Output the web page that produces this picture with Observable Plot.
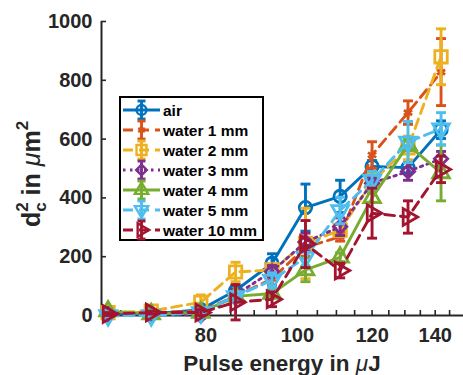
<!DOCTYPE html>
<html>
<head>
<meta charset="utf-8">
<script src="https://cdn.jsdelivr.net/npm/d3@7"></script>
<script src="https://cdn.jsdelivr.net/npm/@observablehq/plot@0.6"></script>
<style>
  html, body { margin: 0; padding: 0; background: #fff; }
  #chart { position: relative; width: 463px; height: 375px; overflow: hidden; }
  #chart svg { display: block; }
  #legend { position: absolute; left: 0; top: 0; pointer-events: none; }
</style>
</head>
<body>
<div id="chart"></div>
<script>
// Pulse energies (µJ) at which the crater diameter was measured
const energy = [63, 70, 79, 86, 94, 102, 111, 120, 131, 142];

const seriesNames = ["air", "water 1 mm", "water 2 mm", "water 3 mm", "water 4 mm", "water 5 mm", "water 10 mm"];

// Squared crater diameter d_c^2 (µm^2) and its error, one pair of arrays per medium
const air       = [5, 5, 20, 85, 177, 367, 405, 507, 503, 632];
const airErr    = [5, 5, 8, 15, 33, 80, 55, 20, 20, 30];
const water1    = [5, 10, 15, 65, 125, 232, 268, 546, 690, 828];
const water1Err = [5, 5, 8, 20, 20, 30, 15, 45, 40, 114];
const water2    = [10, 15, 45, 148, 155, 245, 290, 455, 570, 880];
const water2Err = [5, 5, 25, 33, 15, 120, 20, 30, 40, 95];
const water3    = [5, 10, 0, 70, 150, 250, 302, 450, 490, 533];
const water3Err = [5, 5, 10, 20, 20, 30, 30, 20, 30, 25];
const water4    = [15, 5, 10, 65, 75, 155, 198, 400, 580, 485];
const water4Err = [5, 5, 5, 15, 10, 40, 15, 15, 20, 95];
const water5    = [0, 0, 10, 65, 120, 198, 357, 460, 590, 635];
const water5Err = [5, 5, 5, 15, 25, 30, 45, 30, 70, 55];
const water10   = [5, 10, 10, 45, 55, 243, 153, 348, 335, 497];
const water10Err = [5, 5, 10, 60, 25, 80, 25, 85, 55, 45];

// Axis ticks
const yTicks = [0, 200, 400, 600, 800, 1000];
const xTickLabels = [80, 100, 120, 140];
const xMinorTicks = [65, 70, 75, 80, 85, 90, 95, 100, 105, 110, 115, 120, 125, 130, 135, 140, 145];

const seriesValues = [air, water1, water2, water3, water4, water5, water10];
const seriesErrors = [airErr, water1Err, water2Err, water3Err, water4Err, water5Err, water10Err];

// Series styling (MATLAB default colour order)
const colors = ["#0072BD", "#D95319", "#EDB120", "#7E2F8E", "#77AC30", "#4DBEEE", "#A2142F"];
const dashes = [null, "10,6", "10,6", "2.5,4.5", null, "10,6", "10,6"];
const symbolNames = ["circle", "asterisk", "square", "diamond2", "triangle", "triangle", "triangle"];
const d3Symbols = [d3.symbolCircle, d3.symbolAsterisk, d3.symbolSquare, d3.symbolDiamond2, d3.symbolTriangle, d3.symbolTriangle, d3.symbolTriangle];
const rotations = [0, 0, 0, 0, 0, 180, 90];
const radii = [6.2, 4.5, 7, 6, 6.2, 6.2, 6.2];

const LW = 2.9;
const ink = "#262626";
const font = "'Liberation Sans', Arial, Helvetica, sans-serif";

// Horizontal error-bar cap drawn as a custom symbol
const capSymbol = {
  draw(ctx, size) {
    const h = Math.sqrt(size) / 2;
    ctx.moveTo(-h, 0);
    ctx.lineTo(h, 0);
  }
};
const capR = 10 / Math.sqrt(Math.PI);

const rows = seriesNames.map((name, s) =>
  energy.map((e, i) => ({name, energy: e, value: seriesValues[s][i], err: seriesErrors[s][i]}))
);

const seriesMarks = rows.flatMap((data, s) => [
  Plot.line(data, {x: "energy", y: "value", stroke: colors[s], strokeWidth: LW, strokeDasharray: dashes[s], strokeLinejoin: "round"}),
  Plot.ruleX(data, {x: "energy", y1: d => d.value - d.err, y2: d => d.value + d.err, stroke: colors[s], strokeWidth: LW}),
  Plot.dot(data, {x: "energy", y: d => d.value + d.err, symbol: capSymbol, r: capR, stroke: colors[s], strokeWidth: LW, fill: "none"}),
  Plot.dot(data, {x: "energy", y: d => d.value - d.err, symbol: capSymbol, r: capR, stroke: colors[s], strokeWidth: LW, fill: "none"}),
  Plot.dot(data, {x: "energy", y: "value", symbol: symbolNames[s], r: radii[s], rotate: rotations[s], stroke: colors[s], strokeWidth: 2.8, fill: "none"})
]);

const chart = Plot.plot({
  width: 463,
  height: 375,
  marginLeft: 101,
  marginRight: 0,
  marginTop: 21,
  marginBottom: 60,
  style: {fontFamily: font, background: "#fff", overflow: "visible"},
  x: {type: "log", domain: [62, 150]},
  y: {domain: [0, 1000]},
  marks: [
    // inward ticks
    Plot.axisX({ticks: xMinorTicks, tickSize: 5, dy: -5, tickFormat: () => "", stroke: ink, strokeWidth: 1.6, label: null}),
    Plot.axisY({ticks: yTicks, tickSize: 5, dx: 5, tickFormat: () => "", stroke: ink, strokeWidth: 1.6, label: null}),
    // tick labels
    Plot.axisX({ticks: xTickLabels, tickSize: 0, tickPadding: 12, tickFormat: d => String(d), fontSize: 20, fontWeight: "bold", fill: ink, label: null}),
    Plot.axisY({ticks: yTicks, tickSize: 0, tickPadding: 9, tickFormat: d => String(d), fontSize: 20, fontWeight: "bold", fill: ink, label: null}),
    // axis lines
    Plot.ruleY([0], {stroke: ink, strokeWidth: 2}),
    Plot.ruleX([62], {y1: 0, y2: 1000, stroke: ink, strokeWidth: 2}),
    ...seriesMarks
  ]
});

const host = document.getElementById("chart");
host.appendChild(chart);

// Axis titles with TeX-like sub/superscripts
const svg = d3.select(chart);
const xt = svg.append("text")
  .attr("x", 282)
  .attr("y", 371)
  .attr("text-anchor", "middle")
  .attr("font-family", font)
  .attr("font-size", 22.5)
  .attr("font-weight", "bold")
  .attr("fill", ink);
xt.append("tspan").text("Pulse energy in ");
xt.append("tspan").attr("font-style", "italic").attr("font-weight", "normal").text("μ");
xt.append("tspan").text("J");

const yt = svg.append("text")
  .attr("transform", "translate(40,174) rotate(-90)")
  .attr("text-anchor", "middle")
  .attr("font-family", font)
  .attr("font-size", 25)
  .attr("font-weight", "bold")
  .attr("fill", ink);
yt.append("tspan").text("d");
yt.append("tspan").attr("font-size", 17).attr("dy", -12).text("2");
yt.append("tspan").attr("font-size", 17).attr("dx", -9.5).attr("dy", 18).text("c");
yt.append("tspan").attr("dy", -6).text(" in ");
yt.append("tspan").attr("font-style", "italic").attr("font-weight", "normal").text("μ");
yt.append("tspan").text("m");
yt.append("tspan").attr("font-size", 17).attr("dy", -12).text("2");

// Legend box
const lg = d3.select(host).append("svg")
  .attr("id", "legend")
  .attr("width", 463)
  .attr("height", 375);
lg.append("rect")
  .attr("x", 120).attr("y", 97)
  .attr("width", 143).attr("height", 143)
  .attr("fill", "#fff")
  .attr("stroke", "#000")
  .attr("stroke-width", 2);

seriesNames.forEach((name, s) => {
  const cy = 110 + 20 * s;
  const g = lg.append("g").attr("stroke", colors[s]).attr("fill", "none").attr("stroke-width", LW);
  g.append("line").attr("x1", 123).attr("x2", 160).attr("y1", cy).attr("y2", cy)
    .attr("stroke-dasharray", dashes[s]);
  g.append("line").attr("x1", 141.5).attr("x2", 141.5).attr("y1", cy - 9).attr("y2", cy + 9);
  g.append("line").attr("x1", 137.5).attr("x2", 145.5).attr("y1", cy - 9).attr("y2", cy - 9);
  g.append("line").attr("x1", 137.5).attr("x2", 145.5).attr("y1", cy + 9).attr("y2", cy + 9);
  const rr = radii[s] * 0.8;
  g.append("path")
    .attr("d", d3.symbol(d3Symbols[s], Math.PI * rr * rr)())
    .attr("transform", `translate(141.5,${cy}) rotate(${rotations[s]})`)
    .attr("stroke-width", 2.4);
  lg.append("text")
    .attr("x", 163).attr("y", cy + 5.5)
    .attr("font-family", font)
    .attr("font-size", 15.5)
    .attr("font-weight", "bold")
    .attr("fill", "#000")
    .text(name);
});
</script>
</body>
</html>
